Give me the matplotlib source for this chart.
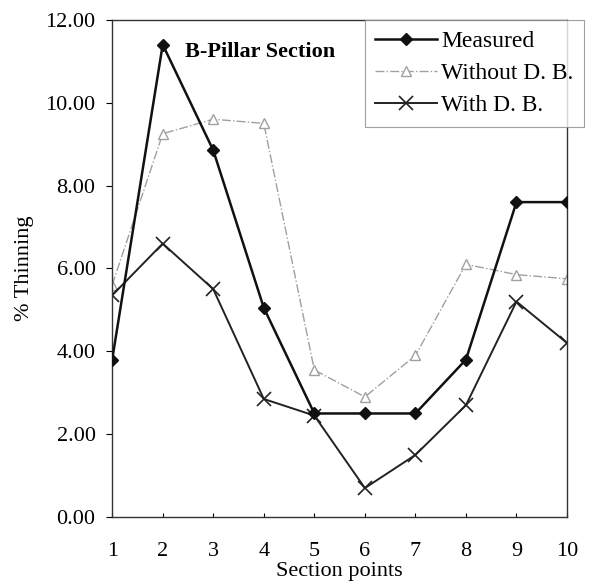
import numpy as np
import matplotlib
matplotlib.use("Agg")
import matplotlib.pyplot as plt

points = np.arange(1, 11)
measured = [3.80, 11.40, 8.85, 5.05, 2.50, 2.50, 2.50, 3.80, 7.60, 7.60]
without_db = [5.60, 9.25, 9.60, 9.50, 3.55, 2.90, 3.90, 6.10, 5.85, 5.75]
with_db = [5.35, 6.60, 5.50, 2.85, 2.45, 0.70, 1.50, 2.70, 5.20, 4.20]
yticks = [0, 2, 4, 6, 8, 10, 12]

plt.rcParams['font.family'] = ['Liberation Serif', 'DejaVu Serif']

fig = plt.figure(figsize=(6.13, 5.81), dpi=100)
ax = fig.add_axes([0.183, 0.110, 0.742, 0.856])

ax.plot(points, measured, color='#111111', lw=1.8, marker='D', ms=6,
        label='Measured', zorder=3)
ax.plot(points, without_db, color='#a0a0a0', lw=1.0, ls='-.', marker='^', ms=7,
        mfc='white', mec='#a0a0a0', label='Without D. B.', zorder=2)
ax.plot(points, with_db, color='#222222', lw=1.4, marker='x', ms=10, mew=1.2,
        label='With D. B.', zorder=2)

ax.set_xlim(1, 10)
ax.set_ylim(0, 12)
ax.set_xticks(points)
ax.set_yticks(yticks)
ax.set_yticklabels(['%.2f' % v for v in yticks])
ax.tick_params(axis='y', direction='out', length=4, labelsize=16, pad=8)
ax.tick_params(axis='x', direction='in', length=3, labelsize=16, pad=18)
for s in ax.spines.values():
    s.set_color('#333333')
    s.set_linewidth(1.0)

ax.set_xlabel('Section points', fontsize=16, labelpad=1)
ax.set_ylabel('% Thinning', fontsize=16, labelpad=8)

ax.text(0.16, 0.935, 'B-Pillar Section', transform=ax.transAxes,
        fontsize=16, fontweight='bold', va='center')

leg = ax.legend(loc='upper left', bbox_to_anchor=(0.555, 1.0), fontsize=17,
                frameon=True, fancybox=False, handlelength=2.6,
                borderpad=0.45, labelspacing=0.45, handletextpad=0.2,
                borderaxespad=0)
leg.get_frame().set_edgecolor('#888888')
leg.get_frame().set_linewidth(0.8)

fig.savefig('out.png', dpi=100)
